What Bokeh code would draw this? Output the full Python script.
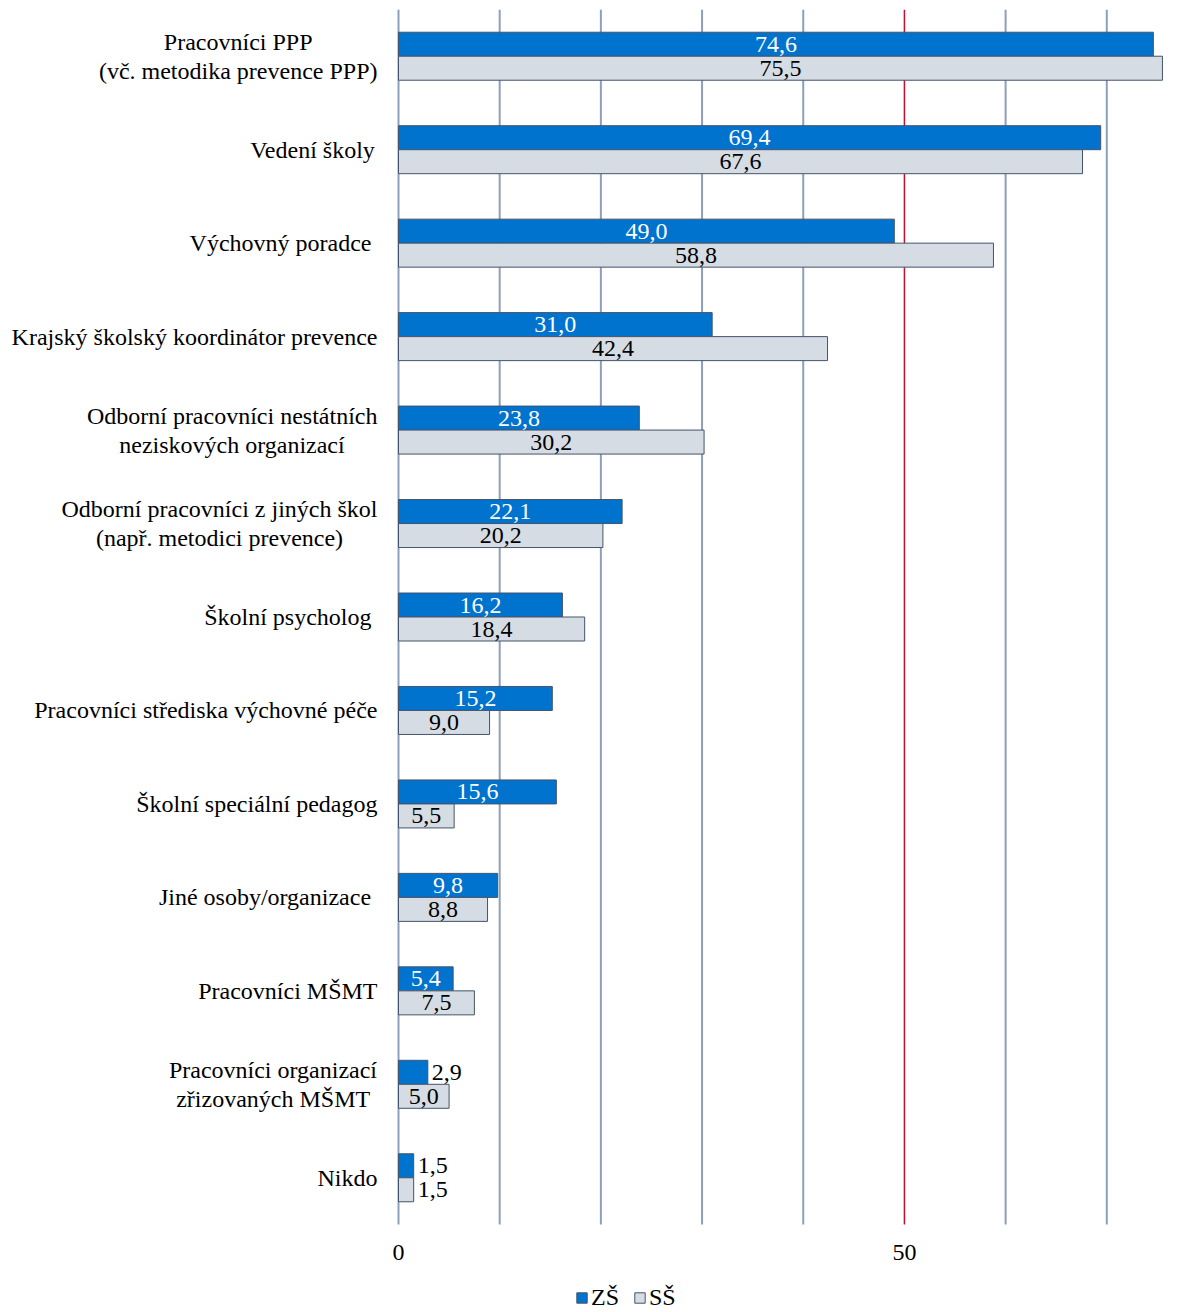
import unicodedata
from bokeh.plotting import figure
from bokeh.models import Range1d, LabelSet, Label, ColumnDataSource, Legend, LegendItem
from bokeh.embed import file_html
from bokeh.resources import INLINE

# ---------------- data ----------------
categories = [
    "Pracovníci PPP\n(vč. metodika prevence PPP)",
    "Vedení školy",
    "Výchovný poradce ",
    "Krajský školský koordinátor prevence",
    "Odborní pracovníci nestátních\nneziskových organizací",
    "Odborní pracovníci z jiných škol\n(např. metodici prevence)",
    "Školní psycholog ",
    "Pracovníci střediska výchovné péče",
    "Školní speciální pedagog",
    "Jiné osoby/organizace ",
    "Pracovníci MŠMT",
    "Pracovníci organizací\nzřizovaných MŠMT",
    "Nikdo",
]
zs_values = [74.6, 69.4, 49.0, 31.0, 23.8, 22.1, 16.2, 15.2, 15.6, 9.8, 5.4, 2.9, 1.5]
ss_values = [75.5, 67.6, 58.8, 42.4, 30.2, 20.2, 18.4, 9.0, 5.5, 8.8, 7.5, 5.0, 1.5]
series_names = ["ZŠ", "SŠ"]
x_tick_values = [0, 50]
x_tick_labels = ["0", "50"]
grid_values = [0, 10, 20, 30, 40, 60, 70]
highlight_value = 50

# ---------------- style ----------------
FONT = "Liberation Serif"
FS = 24
BLUE = "#0073CF"
GRAY = "#D6DCE4"
EDGE = "#44546A"
GRID = "#8E9FBB"
RED = "#C8102E"

# Times / Liberation Serif advance widths (per 1000 em)
_W = {" ": 250, "(": 333, ")": 333, ".": 250, ",": 250, "/": 278,
      "A": 722, "B": 667, "C": 667, "D": 722, "E": 611, "F": 556, "G": 722, "H": 722,
      "I": 333, "J": 389, "K": 722, "L": 611, "M": 889, "N": 722, "O": 722, "P": 556,
      "Q": 722, "R": 667, "S": 556, "T": 611, "U": 722, "V": 722, "W": 944, "X": 722,
      "Y": 722, "Z": 611,
      "a": 444, "b": 500, "c": 444, "d": 500, "e": 444, "f": 333, "g": 500, "h": 500,
      "i": 278, "j": 278, "k": 500, "l": 278, "m": 778, "n": 500, "o": 500, "p": 500,
      "q": 500, "r": 333, "s": 389, "t": 278, "u": 500, "v": 500, "w": 722, "x": 500,
      "y": 500, "z": 444}


def text_width(s, size=FS):
    total = 0
    for ch in s:
        base = unicodedata.normalize("NFD", ch)[0]
        total += _W.get(base, 500)
    return total * size / 1000.0


def fmt(v):
    return f"{v:.1f}".replace(".", ",")


n = len(categories)
X_MAX = 76
LEFT_PX = 398                  # pixel position of value 0
PLOT_W = 769                   # pixels from 0 to X_MAX
PLOT_H = 1215                  # pixels covered by the categories
FIG_W, FIG_H, TOP = 1193, 1312, 9
unit_px = PLOT_H / n           # px per category
bar_h = 24 / unit_px
line_h = 29 / unit_px
px_per_x = PLOT_W / X_MAX
x_start = -LEFT_PX / px_per_x  # frame covers the whole canvas so nothing is clipped
frame_h = FIG_H - TOP
y_start = -0.5 - (frame_h - PLOT_H) / unit_px
y_top = n - 0.5

p = figure(width=FIG_W, height=FIG_H, output_backend="svg", toolbar_location=None,
           x_range=Range1d(x_start, X_MAX), y_range=Range1d(y_start, y_top),
           min_border_left=0, min_border_right=FIG_W - LEFT_PX - PLOT_W,
           min_border_top=TOP, min_border_bottom=0)
p.outline_line_color = None
p.background_fill_color = "white"
p.xaxis.visible = False
p.yaxis.visible = False
p.xgrid.visible = False
p.ygrid.visible = False

# vertical grid lines (value axis) and highlighted 50 line
p.segment(x0=grid_values, x1=grid_values, y0=-0.5, y1=y_top, line_color=GRID, line_width=2)
p.segment(x0=[highlight_value], x1=[highlight_value], y0=-0.5, y1=y_top,
          line_color=RED, line_width=1.5)

# value-axis tick labels
p.add_layout(LabelSet(x="x", y="y", text="t",
                      source=ColumnDataSource(dict(x=x_tick_values,
                                                   y=[-0.5 - 28 / unit_px] * len(x_tick_values),
                                                   t=x_tick_labels)),
                      text_font=FONT, text_font_size=f"{FS}px", text_baseline="middle",
                      text_align="center", text_color="black"))

yc = [n - 1 - i for i in range(n)]
zs_y = [y + bar_h / 2 for y in yc]
ss_y = [y - bar_h / 2 for y in yc]

r_zs = p.hbar(y=zs_y, right=zs_values, left=0, height=bar_h, fill_color=BLUE,
              line_color=EDGE, line_width=1)
r_ss = p.hbar(y=ss_y, right=ss_values, left=0, height=bar_h, fill_color=GRAY,
              line_color=EDGE, line_width=1)


def add_value_labels(values, ys, inside_color):
    ins = dict(x=[], y=[], t=[])
    out = dict(x=[], y=[], t=[])
    for v, y in zip(values, ys):
        t = fmt(v)
        if text_width(t) + 4 < v * px_per_x:
            ins["x"].append(v / 2); ins["y"].append(y); ins["t"].append(t)
        else:
            out["x"].append(v); out["y"].append(y); out["t"].append(t)
    common = dict(text_font=FONT, text_font_size=f"{FS}px", text_baseline="middle")
    p.add_layout(LabelSet(x="x", y="y", text="t", source=ColumnDataSource(ins),
                          text_align="center", text_color=inside_color, **common))
    p.add_layout(LabelSet(x="x", y="y", text="t", source=ColumnDataSource(out),
                          text_align="left", x_offset=4, text_color="black", **common))


add_value_labels(zs_values, zs_y, "white")
add_value_labels(ss_values, ss_y, "black")

# category labels (centred lines, block right-aligned 21px left of axis)
for i, label in enumerate(categories):
    lines = label.split("\n")
    block = max(text_width(l) for l in lines)
    centre = -(21 + block / 2)
    k = len(lines)
    for j, l in enumerate(lines):
        p.add_layout(Label(x=0, y=yc[i] + ((k - 1) / 2 - j) * line_h, text=l,
                           x_offset=centre - text_width(l) / 2,
                           text_font=FONT, text_font_size=f"{FS}px", text_baseline="middle",
                           text_align="left", text_color="black"))

lg = Legend(items=[LegendItem(label=series_names[0], renderers=[r_zs]),
                   LegendItem(label=series_names[1], renderers=[r_ss])],
            orientation="horizontal", location=(575, 1))
lg.padding = 0
lg.margin = 0
lg.spacing = 14
lg.border_line_color = None
lg.background_fill_alpha = 0
lg.glyph_width = 13
lg.glyph_height = 13
lg.label_standoff = 3
lg.label_text_font = FONT
lg.label_text_font_size = f"{FS}px"
lg.label_text_color = "black"
p.add_layout(lg, "center")

open("out.html", "w").write(file_html(p, INLINE))
